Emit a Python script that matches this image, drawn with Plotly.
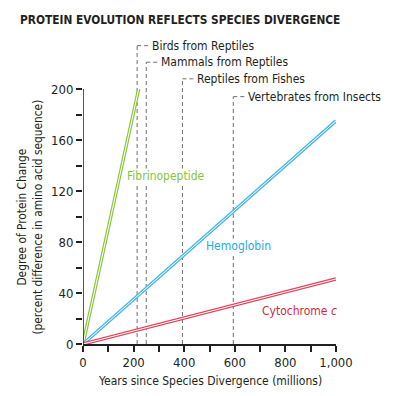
import plotly.graph_objects as go

# ---- data ----
fib_x = [0, 220]
fib_y = [0, 200]
hem_x = [0, 1000]
hem_y = [0, 175]
cyt_x = [0, 1000]
cyt_y = [0, 51]

event_names = ["Birds from Reptiles", "Mammals from Reptiles", "Reptiles from Fishes", "Vertebrates from Insects"]
event_x = [214, 250, 393, 594]
event_top = [234, 221, 208, 194]

x_ticks = [0, 100, 200, 300, 400, 500, 600, 700, 800, 900, 1000]
x_ticktext = ["0", "", "200", "", "400", "", "600", "", "800", "", "1,000"]
y_ticks = [0, 20, 40, 60, 80, 100, 120, 140, 160, 180, 200]
y_ticktext = ["0", "", "40", "", "80", "", "120", "", "160", "", "200"]

FONT = "DejaVu Sans Condensed, Roboto, sans-serif"
DARK = "#231f20"
GREEN = "#8cc63f"
BLUE = "#4db8ea"
RED = "#e0455c"
RED_TXT = "#d91f3f"
BLUE_TXT = "#27a9e1"
GREEN_TXT = "#86c440"

W, H = 391, 388

fig = go.Figure()

series = [(fib_x, fib_y, GREEN), (hem_x, hem_y, BLUE), (cyt_x, cyt_y, RED)]
for xs, ys, col in series:
    fig.add_trace(go.Scatter(x=xs, y=ys, mode="lines", line=dict(color=col, width=3.4),
                             hoverinfo="skip", showlegend=False))
    fig.add_trace(go.Scatter(x=xs, y=ys, mode="lines", line=dict(color="white", width=1.0),
                             hoverinfo="skip", showlegend=False))

shapes = []
annotations = []
for name, ex, top in zip(event_names, event_x, event_top):
    shapes.append(dict(type="line", xref="x", yref="y", x0=ex, x1=ex, y0=0, y1=top,
                       line=dict(color="#6d6e71", width=1, dash="4px,3px"), layer="below"))
    shapes.append(dict(type="line", xref="x", yref="y", x0=ex, x1=ex + 52, y0=top, y1=top,
                       line=dict(color="#6d6e71", width=1, dash="4px,3px"), layer="below"))
    annotations.append(dict(x=ex, y=top, xref="x", yref="y", text=name, showarrow=False,
                            xanchor="left", yanchor="middle", xshift=13,
                            font=dict(family=FONT, size=12, color=DARK)))

# y axis line only up to 200
shapes.append(dict(type="line", xref="x", yref="y", x0=0, x1=0, y0=0, y1=200,
                   line=dict(color=DARK, width=1.5)))

annotations += [
    dict(x=330, y=132, xref="x", yref="y", text="Fibrinopeptide", showarrow=False,
         bgcolor="white", borderpad=0,
         font=dict(family=FONT, size=12, color=GREEN_TXT)),
    dict(x=613, y=77, xref="x", yref="y", text="Hemoglobin", showarrow=False,
         bgcolor="white", borderpad=0,
         font=dict(family=FONT, size=12, color=BLUE_TXT)),
    dict(x=855, y=26, xref="x", yref="y", text="Cytochrome <i>c</i>", showarrow=False,
         font=dict(family=FONT, size=12, color=RED_TXT)),
    dict(x=0, y=0.413, xref="paper", yref="paper", xshift=-53, textangle=-90,
         text="Degree of Protein Change<br>(percent difference in amino acid sequence)",
         showarrow=False, xanchor="center", yanchor="middle",
         font=dict(family=FONT, size=11.8, color=DARK)),
    dict(x=0.5, y=0, xref="paper", yref="paper", yshift=-37, xanchor="center", yanchor="middle",
         text="Years since Species Divergence (millions)", showarrow=False,
         font=dict(family=FONT, size=12, color=DARK)),
]

fig.update_layout(
    width=W, height=H,
    margin=dict(l=75, r=63, t=30, b=52),
    paper_bgcolor="white", plot_bgcolor="white",
    title=dict(text="<b>PROTEIN EVOLUTION REFLECTS SPECIES DIVERGENCE</b>", x=12 / W, xanchor="left",
               y=1 - 12 / H, yanchor="middle", font=dict(family=FONT, size=11.8, color=DARK)),
    xaxis=dict(range=[0, 1000], tickvals=x_ticks, ticktext=x_ticktext, ticks="outside", ticklen=6,
               tickwidth=1.5, tickcolor=DARK, showline=True, linecolor=DARK, linewidth=1.5,
               showgrid=False, zeroline=False, tickfont=dict(family=FONT, size=13, color=DARK)),
    yaxis=dict(range=[0, 240], tickvals=y_ticks, ticktext=y_ticktext, ticks="outside", ticklen=6,
               tickwidth=1.5, tickcolor=DARK, showline=False, showgrid=False, zeroline=False,
               tickfont=dict(family=FONT, size=13, color=DARK)),
    shapes=shapes, annotations=annotations,
)

fig.write_html("out.html")
